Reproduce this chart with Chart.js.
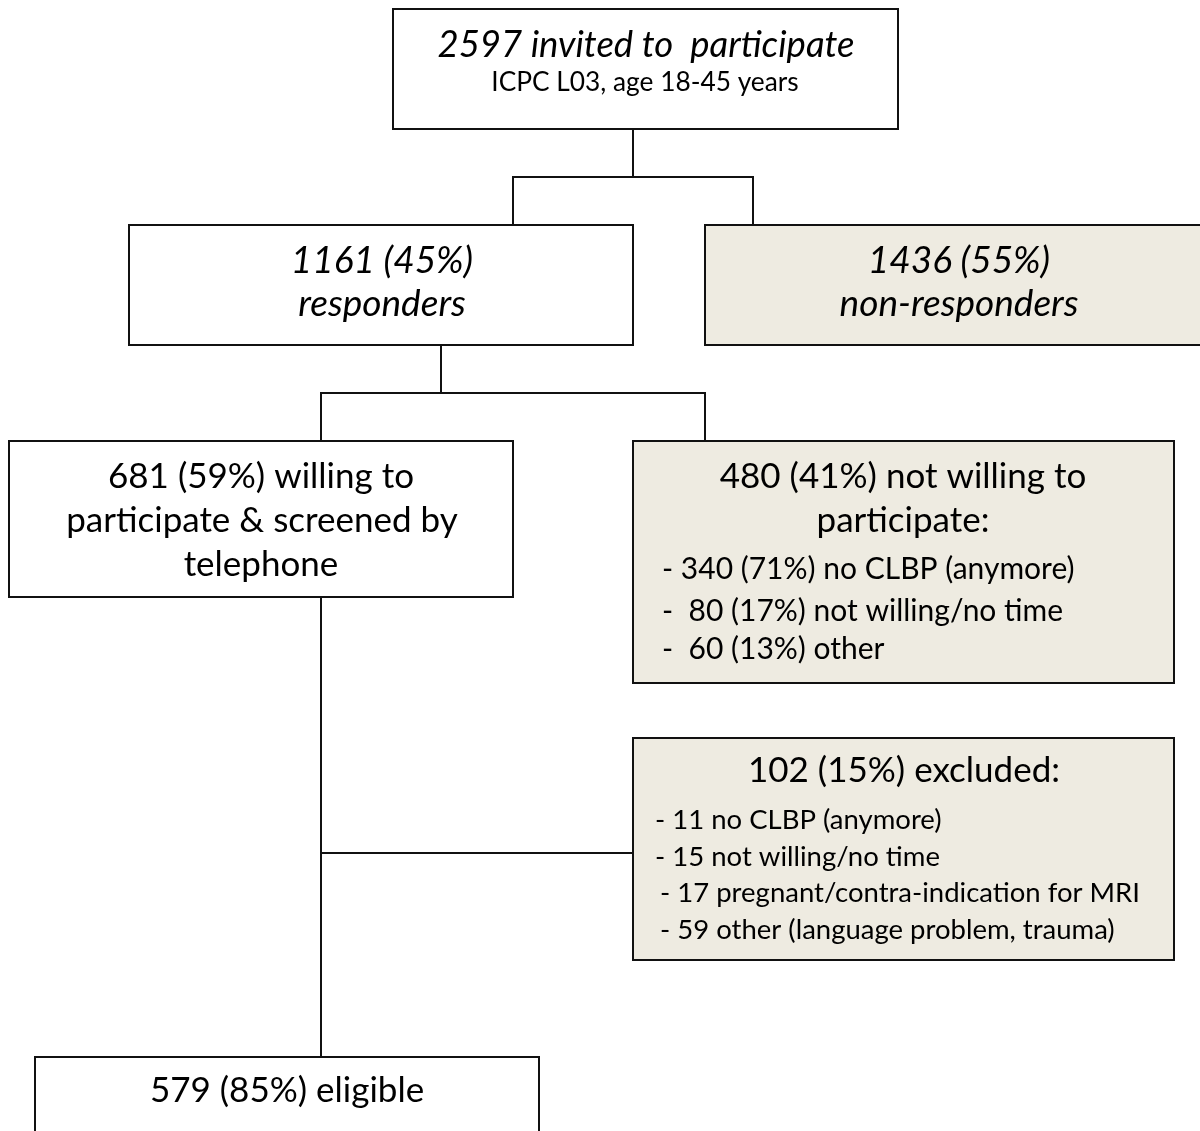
<!DOCTYPE html>
<html>
<head>
<meta charset="utf-8">
<script src="https://cdn.jsdelivr.net/npm/chart.js@4"></script>
<style>
  html,body{margin:0;padding:0;background:#fff;}
  #wrap{width:1200px;height:1131px;position:relative;}
</style>
</head>
<body>
<div id="wrap"><canvas id="c"></canvas></div>
<script>
const invitedCount = 2597;
const invitedCriteria = 'ICPC L03, age 18-45 years';
const responseLabels = ['responders', 'non-responders'];
const responseCounts = [1161, 1436];
const responsePct = [45, 55];
const willingCounts = [681, 480];
const willingPct = [59, 41];
const notWillingReasons = ['no CLBP (anymore)', 'not willing/no time', 'other'];
const notWillingCounts = [340, 80, 60];
const notWillingPct = [71, 17, 13];
const excludedCount = 102;
const excludedPct = 15;
const excludedReasons = ['no CLBP (anymore)', 'not willing/no time', 'pregnant/contra-indication for MRI', 'other (language problem, trauma)'];
const excludedCounts = [11, 15, 17, 59];
const eligibleCount = 579;
const eligiblePct = 85;

// ---- layout (diagram coordinates) ----
const FONT = 'Lato, "Open Sans", sans-serif';
const WHITE = '#ffffff', BEIGE = '#eeebe1';
const boxes = [
  {x0:393, y0:9,   x1:898,  y1:129,  fill:WHITE},
  {x0:129, y0:225, x1:633,  y1:345,  fill:WHITE},
  {x0:705, y0:225, x1:1212, y1:345,  fill:BEIGE},
  {x0:9,   y0:441, x1:513,  y1:597,  fill:WHITE},
  {x0:633, y0:441, x1:1174, y1:683,  fill:BEIGE},
  {x0:633, y0:738, x1:1174, y1:960,  fill:BEIGE},
  {x0:35,  y0:1057,x1:539,  y1:1145, fill:WHITE}
];
const connectors = [
  [[633,129],[633,177]],
  [[513,225],[513,177],[753,177],[753,225]],
  [[441,345],[441,393]],
  [[321,441],[321,393],[705,393],[705,441]],
  [[321,597],[321,1057]],
  [[321,853],[633,853]]
];
const big = 35, ital = 37, mid = 30, small = 27.5;
const texts = [
  {t:`${invitedCount} invited to  participate`, x:646, y:45, s:36.5, it:true},
  {t:invitedCriteria, x:645, y:83, s:26.3},
  {t:`${responseCounts[0]} (${responsePct[0]}%)`, x:382, y:261, s:ital, it:true},
  {t:responseLabels[0], x:382, y:304, s:ital, it:true},
  {t:`${responseCounts[1]} (${responsePct[1]}%)`, x:959, y:261, s:ital, it:true},
  {t:responseLabels[1], x:959, y:304, s:ital, it:true},
  {t:`${willingCounts[0]} (${willingPct[0]}%) willing to`, x:261, y:477, s:big},
  {t:'participate & screened by', x:262, y:521, s:big},
  {t:'telephone', x:261, y:565, s:big},
  {t:`${willingCounts[1]} (${willingPct[1]}%) not willing to`, x:903, y:477, s:big},
  {t:'participate:', x:903, y:521, s:big},
  {t:`- ${notWillingCounts[0]} (${notWillingPct[0]}%) ${notWillingReasons[0]}`, x:662, y:569, s:mid, al:'left'},
  {t:`-  ${notWillingCounts[1]} (${notWillingPct[1]}%) ${notWillingReasons[1]}`, x:662, y:611, s:mid, al:'left'},
  {t:`-  ${notWillingCounts[2]} (${notWillingPct[2]}%) ${notWillingReasons[2]}`, x:662, y:649, s:mid, al:'left'},
  {t:`${excludedCount} (${excludedPct}%) excluded:`, x:904, y:771, s:big},
  {t:`- ${excludedCounts[0]} ${excludedReasons[0]}`, x:655, y:820, s:small, al:'left'},
  {t:`- ${excludedCounts[1]} ${excludedReasons[1]}`, x:655, y:857, s:small, al:'left'},
  {t:`- ${excludedCounts[2]} ${excludedReasons[2]}`, x:660, y:893, s:small, al:'left'},
  {t:`- ${excludedCounts[3]} ${excludedReasons[3]}`, x:660, y:930, s:small, al:'left'},
  {t:`${eligibleCount} (${eligiblePct}%) eligible`, x:287, y:1091, s:big}
];

const flowPlugin = {
  id: 'flow',
  afterDraw(chart) {
    const ctx = chart.ctx;
    const X = v => chart.scales.x.getPixelForValue(v);
    const Y = v => chart.scales.y.getPixelForValue(v);
    ctx.save();
    ctx.lineWidth = 2;
    ctx.strokeStyle = '#111';
    connectors.forEach(pts => {
      ctx.beginPath();
      pts.forEach((p, i) => i ? ctx.lineTo(X(p[0]), Y(p[1])) : ctx.moveTo(X(p[0]), Y(p[1])));
      ctx.stroke();
    });
    boxes.forEach(b => {
      const x = X(b.x0), y = Y(b.y0), w = X(b.x1) - x, h = Y(b.y1) - y;
      ctx.fillStyle = b.fill;
      ctx.fillRect(x, y, w, h);
      ctx.strokeRect(x, y, w, h);
    });
    ctx.fillStyle = '#000';
    ctx.textBaseline = 'middle';
    texts.forEach(o => {
      ctx.font = `${o.it ? 'italic ' : ''}${o.s}px ${FONT}`;
      ctx.textAlign = o.al || 'center';
      ctx.fillText(o.t, X(o.x), Y(o.y));
    });
    ctx.restore();
  }
};

new Chart(document.getElementById('c'), {
  type: 'scatter',
  data: { datasets: [] },
  options: {
    responsive: true,
    maintainAspectRatio: false,
    animation: false,
    layout: { padding: 0 },
    plugins: { legend: {display:false}, tooltip: {enabled:false} },
    scales: {
      x: { type:'linear', min:0, max:1200, display:false },
      y: { type:'linear', min:0, max:1131, reverse:true, display:false }
    }
  },
  plugins: [flowPlugin]
});
</script>
</body>
</html>
